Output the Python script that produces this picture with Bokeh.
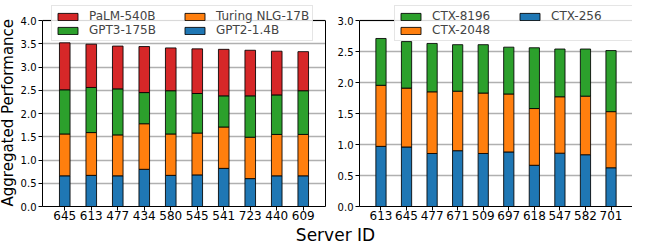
import math
from bokeh.plotting import figure
from bokeh.models import (ColumnDataSource, Range1d, FactorRange, Legend, LegendItem, NumeralTickFormatter,
                          FixedTicker, Span, LinearAxis)
from bokeh.layouts import row, column
from bokeh.embed import file_html
from bokeh.resources import INLINE
from bokeh.core.properties import value

# ---- data ----
servers_a = ["645", "613", "477", "434", "580", "545", "541", "723", "440", "609"]
gpt2 = [0.66, 0.67, 0.66, 0.80, 0.67, 0.68, 0.82, 0.60, 0.66, 0.66]
turing = [0.90, 0.92, 0.88, 0.98, 0.89, 0.90, 0.89, 0.89, 0.89, 0.89]
gpt3 = [0.95, 0.97, 0.99, 0.67, 0.93, 0.85, 0.67, 0.89, 0.85, 0.94]
palm = [1.01, 0.93, 0.92, 0.99, 0.92, 0.96, 1.00, 0.98, 0.94, 0.84]

servers_b = ["613", "645", "477", "671", "509", "697", "618", "547", "582", "701"]
ctx256 = [0.97, 0.96, 0.855, 0.90, 0.855, 0.88, 0.665, 0.86, 0.835, 0.625]
ctx2048 = [0.985, 0.95, 0.995, 0.96, 0.975, 0.935, 0.915, 0.91, 0.945, 0.905]
ctx8196 = [0.755, 0.75, 0.78, 0.75, 0.78, 0.755, 0.98, 0.77, 0.76, 0.985]

ticks_a = [0, 0.5, 1, 1.5, 2, 2.5, 3, 3.5, 4]
ticks_b = [0, 0.5, 1, 1.5, 2, 2.5, 3]

BLUE, ORANGE, GREEN, RED = "#1f77b4", "#ff7f0e", "#2ca02c", "#d62728"
FONT = "DejaVu Sans"
HEADROOM = 202 / 186  # frame extends above the top tick so the legend can overlap the top spine


def style(p, ticks, right_spine):
    top = ticks[-1]
    p.outline_line_color = None
    p.xgrid.visible = False
    p.ygrid.grid_line_color = "#b0b0b0"
    p.ygrid.grid_line_width = 1.3
    p.yaxis.ticker = FixedTicker(ticks=ticks)
    p.yaxis.formatter = NumeralTickFormatter(format="0.0")
    p.yaxis.bounds = (ticks[0], top)
    for ax in (p.xaxis, p.yaxis):
        ax.axis_line_color = "black"
        ax.major_tick_line_color = "black"
        ax.minor_tick_line_color = None
        ax.major_tick_out = 4
        ax.major_tick_in = 0
        ax.major_label_text_color = "black"
        ax.major_label_text_font = FONT
    p.xaxis.major_label_text_font_size = "12px"
    p.yaxis.major_label_text_font_size = "10px"
    p.xaxis.major_label_standoff = 0
    p.yaxis.major_label_standoff = 2
    p.add_layout(Span(location=top, dimension="width", line_color="black", line_width=1))
    if right_spine:
        ra_ = LinearAxis(ticker=FixedTicker(ticks=[]), bounds=(ticks[0], top), axis_line_color="black",
                         major_tick_out=0, major_label_text_font_size="0px", minor_tick_line_color=None)
        p.add_layout(ra_, "right")


def make_legend(p, entries, loc, label_width):
    lg = Legend(items=[LegendItem(label=l, renderers=[r]) for l, r in entries],
                location=loc, ncols=2)
    lg.border_line_color = "#cccccc"
    lg.border_line_width = 1
    lg.background_fill_alpha = 0.85
    lg.label_text_font = FONT
    lg.label_text_font_size = "12px"
    lg.glyph_width = 25
    lg.glyph_height = 9
    lg.label_standoff = 9
    lg.label_height = 13
    lg.label_width = label_width
    lg.padding = 3
    lg.spacing = 0
    lg.margin = 0
    p.add_layout(lg)


H = 224

# ---- y label strip ----
p0 = figure(width=17, height=H, x_range=Range1d(0, 17), y_range=Range1d(0, H), title=None,
            output_backend="svg", toolbar_location=None, x_axis_location=None, y_axis_location=None,
            min_border=0)
p0.outline_line_color = None
p0.grid.visible = False
p0.text(x=[7], y=[104], text=["Aggregated Performance"], angle=math.pi / 2, text_font=value(FONT),
        text_font_size="15px", text_align="center", text_baseline="middle", text_color="black")

# ---- left plot ----
src_a = ColumnDataSource(dict(x=servers_a, gpt2=gpt2, turing=turing, gpt3=gpt3, palm=palm))
p1 = figure(width=313, height=H, title=None,
            x_range=FactorRange(*servers_a, range_padding=0.34, range_padding_units="absolute"),
            y_range=Range1d(0, ticks_a[-1] * HEADROOM), output_backend="svg", toolbar_location=None,
            min_border_left=22, min_border_right=5, min_border_top=4, min_border_bottom=18)
ra = p1.vbar_stack(["gpt2", "turing", "gpt3", "palm"], x="x", width=0.4, source=src_a,
                   color=[BLUE, ORANGE, GREEN, RED], line_color="black", line_width=1, line_alpha=0.85)
style(p1, ticks_a, True)
make_legend(p1, [("PaLM-540B", ra[3]), ("GPT3-175B", ra[2]), ("Turing NLG-17B", ra[1]), ("GPT2-1.4B", ra[0])],
            (9, 165), 93)

# ---- right plot ----
src_b = ColumnDataSource(dict(x=servers_b, c256=ctx256, c2048=ctx2048, c8196=ctx8196))
p2 = figure(width=302, height=H, title=None,
            x_range=FactorRange(*servers_b, range_padding=0.34, range_padding_units="absolute"),
            y_range=Range1d(0, ticks_b[-1] * HEADROOM), output_backend="svg", toolbar_location=None,
            min_border_left=29, min_border_right=0, min_border_top=4, min_border_bottom=18)
rb = p2.vbar_stack(["c256", "c2048", "c8196"], x="x", width=0.4, source=src_b,
                   color=[BLUE, ORANGE, GREEN], line_color="black", line_width=1, line_alpha=0.85)
style(p2, ticks_b, False)
make_legend(p2, [("CTX-8196", rb[2]), ("CTX-2048", rb[1]), ("CTX-256", rb[0])], (35, 165), 85)

# ---- shared x label ----
p3 = figure(width=632, height=21, x_range=Range1d(0, 632), y_range=Range1d(0, 21), title=None,
            output_backend="svg", toolbar_location=None, x_axis_location=None, y_axis_location=None,
            min_border=0)
p3.outline_line_color = None
p3.grid.visible = False
p3.text(x=[335], y=[10.5], text=["Server ID"], text_font=value(FONT), text_font_size="17px",
        text_align="center", text_baseline="alphabetic", text_color="black")

layout = column(row(p0, p1, p2), p3)
open("out.html", "w").write(file_html(layout, INLINE))
